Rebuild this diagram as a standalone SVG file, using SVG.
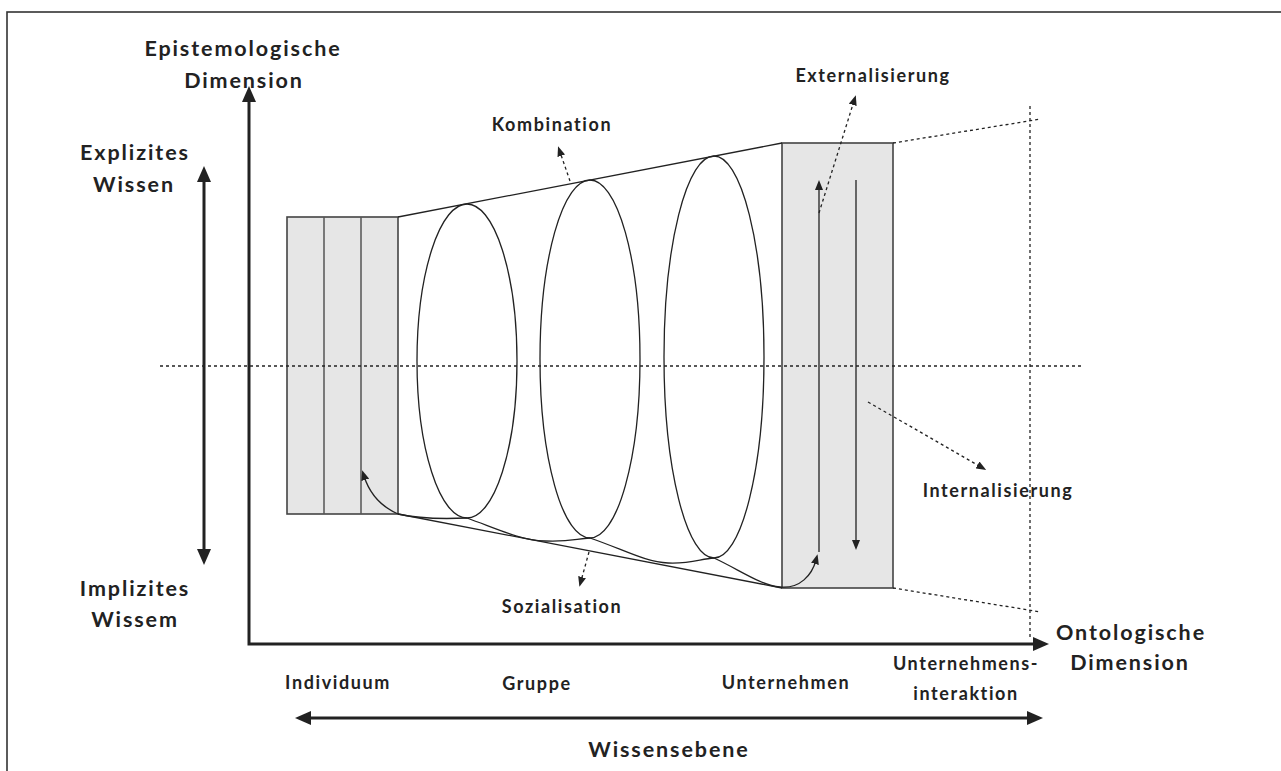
<svg xmlns="http://www.w3.org/2000/svg" width="1281" height="771" viewBox="0 0 1281 771">
  <style>
    .lbl { font-family: Lato, "Open Sans", sans-serif; font-weight: bold; fill: #222; text-anchor: middle; }
    .big { font-size: 21.5px; letter-spacing: 1.9px; }
    .mid { font-size: 18px; letter-spacing: 1.6px; }
    .thin { fill: none; stroke: #222; stroke-width: 1.3; }
    .shade { fill: #e6e6e6; stroke: #444; stroke-width: 1.6; }
    .dot { fill: none; stroke: #222; stroke-width: 1.3; stroke-dasharray: 3 3; }
    .axis { fill: none; stroke: #222; stroke-width: 3; }
  </style>
  <defs>
    <marker id="bigHead" markerUnits="userSpaceOnUse" markerWidth="16" markerHeight="14" refX="4" refY="7" orient="auto-start-reverse">
      <path d="M0,0 L16,7 L0,14 z" fill="#222"/>
    </marker>
    <marker id="smallHead" markerUnits="userSpaceOnUse" markerWidth="10" markerHeight="8" refX="4" refY="4" orient="auto">
      <path d="M0,0 L10,4 L0,8 z" fill="#222"/>
    </marker>
  </defs>

  <!-- outer frame (right and bottom edges run past the canvas) -->
  <rect x="7" y="12" width="1290" height="780" fill="none" stroke="#333" stroke-width="1.6"/>

  <!-- knowledge levels -->
  <g id="individuum">
    <rect class="shade" x="287" y="217" width="111" height="297"/>
    <line x1="324" y1="217" x2="324" y2="514" stroke="#555" stroke-width="1.5"/>
    <line x1="361" y1="217" x2="361" y2="514" stroke="#555" stroke-width="1.5"/>
  </g>
  <g id="unternehmen">
    <rect class="shade" x="782" y="143" width="111" height="445"/>
  </g>
  <g id="gruppe-1"><ellipse class="thin" cx="467" cy="361" rx="50" ry="157"/></g>
  <g id="gruppe-2"><ellipse class="thin" cx="590" cy="359" rx="50" ry="179"/></g>
  <g id="gruppe-3"><ellipse class="thin" cx="714" cy="357" rx="50" ry="201"/></g>

  <!-- reference lines, drawn over the blocks -->
  <g id="guides">
    <line class="dot" x1="160" y1="366" x2="1084" y2="366"/>
    <line class="dot" x1="1030" y1="106" x2="1030" y2="638"/>
    <line class="dot" x1="893" y1="143" x2="1041" y2="119"/>
    <line class="dot" x1="893" y1="588" x2="1041" y2="612"/>
  </g>

  <!-- connectors -->
  <g id="connectors">
    <!-- envelope lines -->
    <line class="thin" x1="398" y1="217" x2="782" y2="143"/>
    <line class="thin" x1="398" y1="514" x2="782" y2="588"/>
    <!-- spiral along the bottom -->
    <path class="thin" d="M398,514 C420,519 445,519 467,518 C500,530 520,540 545,541 S575,539 590,538 C625,550 645,562 668,563 S700,559 714,558 C740,570 760,585 780,587 C800,589 812,575 816,560" marker-end="url(#smallHead)"/>
    <path class="thin" d="M398,514 C380,506 369,492 364,476" marker-end="url(#smallHead)"/>
    <!-- vertical arrows in the company block -->
    <line class="thin" stroke="#444" stroke-width="1.6" x1="819" y1="552" x2="819" y2="186" marker-end="url(#smallHead)"/>
    <line class="thin" stroke="#444" stroke-width="1.6" x1="856" y1="180" x2="856" y2="544" marker-end="url(#smallHead)"/>
    <!-- dotted pointers to the conversion labels -->
    <line class="dot" x1="570" y1="181" x2="560" y2="152" marker-end="url(#smallHead)"/>
    <line class="dot" x1="819" y1="213" x2="854" y2="101" marker-end="url(#smallHead)"/>
    <line class="dot" x1="868" y1="402" x2="981" y2="467" marker-end="url(#smallHead)"/>
    <line class="dot" x1="589" y1="552" x2="581" y2="581" marker-end="url(#smallHead)"/>
    <!-- axes -->
    <path class="axis" d="M249,98 L249,644 L1037,644" marker-start="url(#bigHead)" marker-end="url(#bigHead)"/>
    <line class="axis" x1="204" y1="178" x2="204" y2="553" marker-start="url(#bigHead)" marker-end="url(#bigHead)"/>
    <line class="axis" x1="307" y1="718" x2="1031" y2="718" marker-start="url(#bigHead)" marker-end="url(#bigHead)"/>
  </g>

  <!-- labels -->
  <g id="labels">
    <text class="lbl big" x="243" y="56">Epistemologische</text>
    <text class="lbl big" x="244" y="88">Dimension</text>
    <text class="lbl big" x="135" y="160">Explizites</text>
    <text class="lbl big" x="134" y="192">Wissen</text>
    <text class="lbl big" x="135" y="596">Implizites</text>
    <text class="lbl big" x="135" y="627">Wissem</text>
    <text class="lbl big" x="1131" y="640">Ontologische</text>
    <text class="lbl big" x="1130" y="670">Dimension</text>
    <text class="lbl big" x="669" y="757">Wissensebene</text>
    <text class="lbl mid" x="552" y="131">Kombination</text>
    <text class="lbl mid" x="873" y="82">Externalisierung</text>
    <text class="lbl mid" x="998" y="497">Internalisierung</text>
    <text class="lbl mid" x="562" y="613">Sozialisation</text>
    <text class="lbl mid" x="338" y="689">Individuum</text>
    <text class="lbl mid" x="537" y="690">Gruppe</text>
    <text class="lbl mid" x="786" y="689">Unternehmen</text>
    <text class="lbl mid" x="966" y="670">Unternehmens-</text>
    <text class="lbl mid" x="966" y="700">interaktion</text>
  </g>
</svg>
